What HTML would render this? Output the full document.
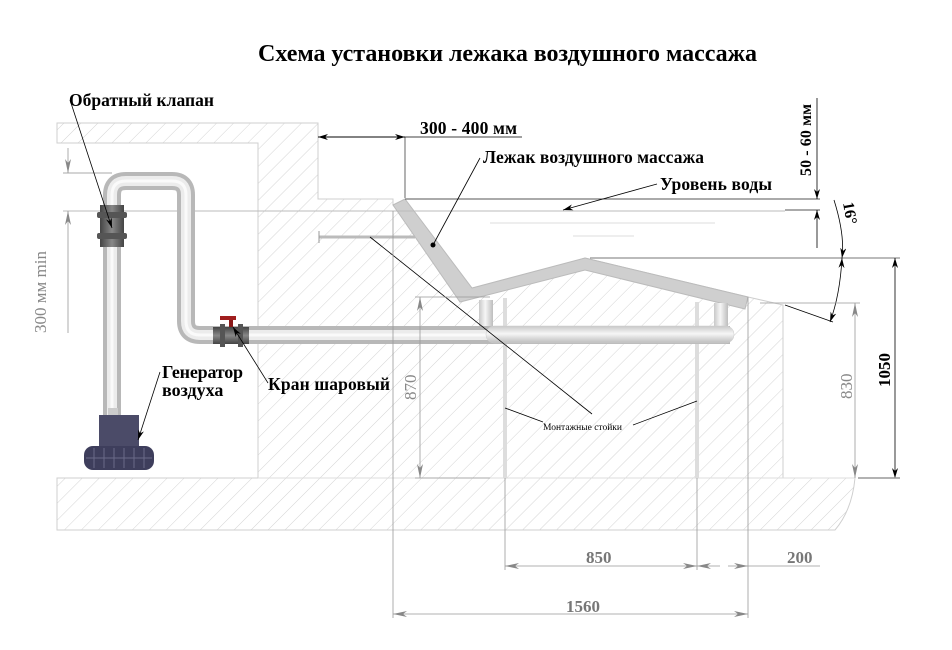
<!DOCTYPE html>
<html><head><meta charset="utf-8"><style>
html,body{margin:0;padding:0;background:#fff;}
svg{display:block}
.b{font-family:"Liberation Serif",serif;font-weight:bold;}
</style></head><body>
<svg width="952" height="650" viewBox="0 0 952 650" xmlns="http://www.w3.org/2000/svg">
<defs>
<pattern id="h" width="12" height="12" patternUnits="userSpaceOnUse" patternTransform="rotate(45)">
<line x1="0" y1="0" x2="0" y2="12" stroke="#d4d4d4" stroke-width="1"/>
</pattern>
<linearGradient id="pv" x1="0" x2="1" y1="0" y2="0">
<stop offset="0" stop-color="#c8c8c8"/><stop offset="0.45" stop-color="#f6f6f6"/><stop offset="1" stop-color="#bdbdbd"/>
</linearGradient>
<linearGradient id="ph" x1="0" x2="0" y1="0" y2="1">
<stop offset="0" stop-color="#c8c8c8"/><stop offset="0.45" stop-color="#f6f6f6"/><stop offset="1" stop-color="#bdbdbd"/>
</linearGradient>
<linearGradient id="dv" x1="0" x2="1"><stop offset="0" stop-color="#444"/><stop offset="0.5" stop-color="#888"/><stop offset="1" stop-color="#444"/></linearGradient>
<linearGradient id="dh" x1="0" x2="0" y1="0" y2="1"><stop offset="0" stop-color="#444"/><stop offset="0.5" stop-color="#888"/><stop offset="1" stop-color="#444"/></linearGradient>
<marker id="a" viewBox="0 0 10 6" refX="10" refY="3" markerWidth="10" markerHeight="6" orient="auto-start-reverse" markerUnits="userSpaceOnUse"><path d="M0,0 L10,3 L0,6 L3,3 z" fill="#000"/></marker>
<marker id="g" viewBox="0 0 14 6" refX="14" refY="3" markerWidth="14" markerHeight="6" orient="auto-start-reverse" markerUnits="userSpaceOnUse"><path d="M0,0 L14,3 L0,6 L4,3 z" fill="#888"/></marker>
</defs>

<path d="M57,123 L318,123 L318,199 L393,199 L393,205 L460,297 L585,258 L748,297 L783,305 L783,478 L855,478 Q852,510 835,530 L57,530 L57,478 L258,478 L258,143 L57,143 Z" fill="url(#h)" stroke="#cfcfcf" stroke-width="1"/>
<line x1="258" y1="478" x2="855" y2="478" stroke="#ddd"/>

<path d="M393,205 L405,199 L472,288 L585,258 L748,297 L745,309 L585,270 L460,302 Z" fill="#cfcfcf" stroke="#bbb"/>
<circle cx="433" cy="245" r="2.5" fill="#000"/>
<line x1="319" y1="237" x2="415" y2="237" stroke="#bbb" stroke-width="3"/>
<line x1="319" y1="231" x2="319" y2="243" stroke="#999"/>

<line x1="405" y1="199" x2="820" y2="199" stroke="#555"/>
<line x1="785" y1="210" x2="820" y2="210" stroke="#555"/>
<line x1="490" y1="223" x2="715" y2="223" stroke="#ddd"/>
<line x1="573" y1="236" x2="634" y2="236" stroke="#ddd"/>
<line x1="63" y1="211" x2="785" y2="211" stroke="#bbb"/>
<line x1="63" y1="173" x2="112" y2="173" stroke="#aaa"/>
<line x1="590" y1="258" x2="900" y2="258" stroke="#777"/>

<rect x="503" y="298" width="4" height="180" fill="#ddd"/>
<rect x="695" y="302" width="4" height="176" fill="#ddd"/>
<rect x="479" y="300" width="14" height="32" fill="url(#pv)"/>
<rect x="714" y="303" width="14" height="30" fill="url(#pv)"/>

<path d="M112,415 L112,195 Q112,181 126,181 L172,181 Q186,181 186,195 L186,321 Q186,335 200,335 L730,335" fill="none" stroke="#b8b8b8" stroke-width="18"/>
<path d="M112,415 L112,195 Q112,181 126,181 L172,181 Q186,181 186,195 L186,321 Q186,335 200,335 L730,335" fill="none" stroke="#ececec" stroke-width="10"/>
<path d="M112,415 L112,195 Q112,181 126,181 L172,181 Q186,181 186,195 L186,321 Q186,335 200,335 L730,335" fill="none" stroke="#fafafa" stroke-width="3"/>
<rect x="486" y="326" width="248" height="17" rx="8" fill="url(#ph)" stroke="#ccc" stroke-width="0.5"/>
<rect x="100" y="205" width="24" height="42" fill="url(#dv)"/>
<rect x="97" y="212" width="30" height="6" rx="2" fill="#555"/>
<rect x="97" y="233" width="30" height="6" rx="2" fill="#555"/>
<rect x="213" y="327" width="36" height="17" fill="url(#dh)"/>
<rect x="220" y="324" width="5" height="23" fill="#555"/>
<rect x="238" y="324" width="5" height="23" fill="#555"/>
<rect x="229" y="318" width="4" height="9" fill="#8a1a1a"/>
<rect x="220" y="316" width="16" height="4" fill="#a01e1e"/>
<rect x="108" y="408" width="10" height="9" fill="#ccc"/>
<rect x="99" y="415" width="40" height="33" fill="#4b4b68"/>
<rect x="84" y="446" width="70" height="24" rx="9" fill="#3e3e5c"/>
<g stroke="#6a6a88" stroke-width="1">
<line x1="94" y1="448" x2="94" y2="468"/><line x1="104" y1="448" x2="104" y2="468"/><line x1="114" y1="448" x2="114" y2="468"/><line x1="124" y1="448" x2="124" y2="468"/><line x1="134" y1="448" x2="134" y2="468"/><line x1="144" y1="448" x2="144" y2="468"/>
<line x1="86" y1="458" x2="152" y2="458"/>
</g>

<g stroke="#000" stroke-width="0.8" fill="none">
<line x1="70" y1="100" x2="112" y2="228" marker-end="url(#a)"/>
<line x1="160" y1="372" x2="138" y2="440" marker-end="url(#a)"/>
<line x1="268" y1="383" x2="233" y2="327" marker-end="url(#a)"/>
<line x1="480" y1="158" x2="433" y2="245"/>
<line x1="657" y1="184" x2="563" y2="210" marker-end="url(#a)"/>
<line x1="370" y1="237" x2="592" y2="414"/>
<line x1="505" y1="408" x2="543" y2="422"/>
<line x1="697" y1="401" x2="633" y2="425"/>
<line x1="318" y1="137" x2="522" y2="137"/>
<line x1="405" y1="137" x2="318" y2="137" marker-end="url(#a)"/>
<line x1="318" y1="137" x2="405" y2="137" marker-end="url(#a)"/>
<line x1="405" y1="137" x2="405" y2="198" stroke-width="0.6"/>
<line x1="817" y1="98" x2="817" y2="199" marker-end="url(#a)"/>
<line x1="817" y1="248" x2="817" y2="210" marker-end="url(#a)"/>
<path d="M834,200 Q845,235 842,258" marker-end="url(#a)"/>
<path d="M842,258 Q840,295 830,322" marker-start="url(#a)" marker-end="url(#a)"/>
<line x1="785" y1="305" x2="833" y2="322"/>
<line x1="895" y1="258" x2="895" y2="478" marker-start="url(#a)" marker-end="url(#a)"/>
<line x1="858" y1="478" x2="900" y2="478" stroke="#999" stroke-width="1.5"/>
</g>

<g stroke="#999" stroke-width="0.8" fill="none">
<line x1="68" y1="148" x2="68" y2="173" marker-end="url(#g)"/>
<line x1="68" y1="333" x2="68" y2="211" marker-end="url(#g)"/>
<line x1="420" y1="297" x2="420" y2="478" marker-start="url(#g)" marker-end="url(#g)"/>
<line x1="415" y1="297" x2="490" y2="297"/>
<line x1="415" y1="478" x2="490" y2="478"/>
<line x1="855" y1="303" x2="855" y2="478" marker-start="url(#g)" marker-end="url(#g)"/>
<line x1="760" y1="303" x2="860" y2="303"/>
<line x1="393" y1="211" x2="393" y2="618"/>
<line x1="748" y1="297" x2="748" y2="618"/>
<line x1="505" y1="478" x2="505" y2="570"/>
<line x1="697" y1="478" x2="697" y2="570"/>
<line x1="505" y1="566" x2="697" y2="566" marker-start="url(#g)" marker-end="url(#g)"/>
<line x1="697" y1="566" x2="720" y2="566" marker-start="url(#g)"/>
<line x1="728" y1="566" x2="748" y2="566" marker-end="url(#g)"/>
<line x1="748" y1="566" x2="820" y2="566"/>
<line x1="393" y1="614" x2="748" y2="614" marker-start="url(#g)" marker-end="url(#g)"/>
</g>

<text x="258" y="61" class="b" font-size="24" textLength="499">Схема установки лежака воздушного массажа</text>
<text x="69" y="106" class="b" font-size="17.5" textLength="145">Обратный клапан</text>
<text x="420" y="134" class="b" font-size="17.5" textLength="97">300 - 400 мм</text>
<text x="483" y="163" class="b" font-size="17.5" textLength="221">Лежак воздушного массажа</text>
<text x="660" y="190" class="b" font-size="17.5" textLength="112">Уровень воды</text>
<text x="162" y="378" class="b" font-size="18" textLength="81">Генератор</text>
<text x="162" y="396" class="b" font-size="18">воздуха</text>
<text x="268" y="390" class="b" font-size="17.5" textLength="122">Кран шаровый</text>
<text x="543" y="430" font-family="Liberation Serif,serif" font-size="9.5" textLength="79">Монтажные стойки</text>
<text class="b" font-size="16" transform="translate(811,176) rotate(-90)" textLength="72">50 - 60 мм</text>
<text class="b" font-size="16" transform="translate(843,203) rotate(80)">16°</text>
<text class="b" font-size="17" transform="translate(890,387) rotate(-90)">1050</text>
<text font-family="Liberation Serif,serif" font-size="17" fill="#888" transform="translate(852,399) rotate(-90)">830</text>
<text font-family="Liberation Serif,serif" font-size="17" fill="#888" transform="translate(416,400) rotate(-90)">870</text>
<text font-family="Liberation Serif,serif" font-size="17" fill="#888" transform="translate(46,333) rotate(-90)">300 мм min</text>
<text x="586" y="563" class="b" font-size="17" fill="#777">850</text>
<text x="787" y="563" class="b" font-size="17" fill="#777">200</text>
<text x="566" y="612" class="b" font-size="17" fill="#777">1560</text>
</svg>
</body></html>
